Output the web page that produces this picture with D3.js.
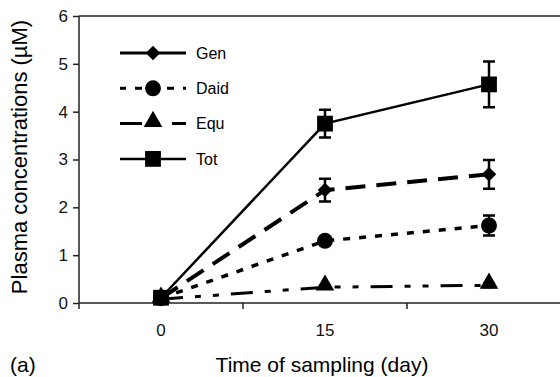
<!DOCTYPE html>
<meta charset="utf-8">
<html lang="en">
<style>
    body { margin: 0; background: #fff; font-family: "Liberation Sans", Arial, sans-serif; }
    .axis path, .axis line { fill: none; stroke: #222; stroke-width: 1.5px; }
    .axis text { font: 17px "Liberation Sans", Arial, sans-serif; fill: #111; }
    .series path.line { fill: none; stroke: #000; }
</style>
<head>
    <script src="https://d3js.org/d3.v7.min.js"></script>
</head>
<body>
<svg width="560" height="377"></svg>
<script>
    // values (plasma concentrations, µM)
    var days = ["0", "15", "30"];
    var seriesNames = ["Gen", "Daid", "Equ", "Tot"];
    var genValues = [0.10, 2.36, 2.69];
    var genErrors = [0, 0.24, 0.30];
    var daidValues = [0.10, 1.30, 1.62];
    var daidErrors = [0, 0.08, 0.21];
    var equValues = [0.08, 0.33, 0.37];
    var equErrors = [0, 0.03, 0.04];
    var totValues = [0.11, 3.75, 4.57];
    var totErrors = [0.02, 0.29, 0.48];
    var yTicks = [0, 1, 2, 3, 4, 5, 6];

    var plotLeft = 79, plotTop = 16, plotBottom = 303, plotRight = 571;

    var x = d3.scaleBand().domain(days).range([plotLeft, plotRight]).padding(0);
    var y = d3.scaleLinear().domain([0, 6]).range([plotBottom, plotTop]);

    var svg = d3.select("svg");

    // frame top line
    svg.append("line")
        .attr("x1", plotLeft).attr("x2", plotRight)
        .attr("y1", plotTop).attr("y2", plotTop)
        .style("stroke", "#222").style("stroke-width", 1.5);

    svg.append("g")
        .attr("class", "axis")
        .attr("transform", "translate(" + plotLeft + ",0)")
        .call(d3.axisLeft(y).tickValues(yTicks).tickFormat(d3.format("d"))
            .tickSize(6).tickSizeOuter(0).tickPadding(5))
        .call(function (g) { g.select(".domain").attr("d", "M0," + plotTop + "V" + (plotBottom + 6)); });

    // x axis: tick marks at band edges, labels at band centres
    var xAxis = svg.append("g")
        .attr("class", "axis")
        .attr("transform", "translate(0," + plotBottom + ")");
    xAxis.append("path").attr("d", "M" + plotLeft + ",0H" + plotRight);
    xAxis.selectAll(".edge")
        .data(days.slice(1))
        .enter().append("line")
        .attr("x1", function (d) { return x(d); })
        .attr("x2", function (d) { return x(d); })
        .attr("y1", 0).attr("y2", 6);
    xAxis.selectAll(".lab")
        .data(days)
        .enter().append("text")
        .attr("x", function (d) { return x(d) + x.bandwidth() / 2; })
        .attr("y", 33)
        .style("text-anchor", "middle")
        .text(function (d) { return d; });

    var styles = {
        Gen: {values: genValues, errors: genErrors, dash: "20,11", width: 4, marker: d3.symbolSquare, size: 105, rot: 45},
        Daid: {values: daidValues, errors: daidErrors, dash: "7,9", width: 3.5, marker: d3.symbolCircle, size: 200, rot: 0},
        Equ: {values: equValues, errors: equErrors, dash: "22,12,6,12,6,12", width: 3, marker: d3.symbolTriangle, size: 150, rot: 0},
        Tot: {values: totValues, errors: totErrors, dash: null, width: 2.5, marker: d3.symbolSquare, size: 250, rot: 0}
    };

    var cx = function (i) { return x(days[i]) + x.bandwidth() / 2; };
    var line = d3.line()
        .x(function (d, i) { return cx(i); })
        .y(function (d) { return y(d); });

    seriesNames.forEach(function (name) {
        var s = styles[name];
        var g = svg.append("g").attr("class", "series");
        g.append("path")
            .attr("class", "line")
            .attr("d", line(s.values))
            .style("stroke-width", s.width)
            .style("stroke-dasharray", s.dash);
        // error bars
        s.values.forEach(function (v, i) {
            var e = s.errors[i];
            if (!e) return;
            g.append("path")
                .attr("d", "M" + cx(i) + "," + y(v - e) + "V" + y(v + e) +
                    "M" + (cx(i) - 6) + "," + y(v + e) + "H" + (cx(i) + 6) +
                    "M" + (cx(i) - 6) + "," + y(v - e) + "H" + (cx(i) + 6))
                .style("fill", "none").style("stroke", "#000").style("stroke-width", 2.5);
        });
    });

    seriesNames.forEach(function (name) {
        var s = styles[name];
        svg.append("g").selectAll("path")
            .data(s.values)
            .enter().append("path")
            .attr("transform", function (d, i) {
                var off = name === "Equ" ? -2 : 0;
                return "translate(" + cx(i) + "," + (y(d) + off) + ") rotate(" + s.rot + ")";
            })
            .attr("d", d3.symbol().type(s.marker).size(s.size))
            .style("fill", "#000");
    });

    // legend
    var legend = svg.selectAll(".legend")
        .data(seriesNames)
        .enter().append("g")
        .attr("class", "legend")
        .attr("transform", function (d, i) { return "translate(153," + (53 + i * 35.3) + ")"; });

    legend.append("path")
        .attr("d", "M-33,0H33")
        .style("stroke", "#000")
        .style("stroke-width", function (d) { return d === "Tot" ? 2.5 : 3; })
        .style("stroke-dasharray", function (d) {
            if (d === "Daid") return "7,9";
            if (d === "Equ") return "22,12,6,12";
            return null;
        })
        .style("stroke-dashoffset", function (d) { return d === "Daid" ? 1 : 0; });
    legend.append("path")
        .attr("transform", function (d) {
            return (d === "Equ" ? "translate(0,-2) " : "") + "rotate(" + styles[d].rot + ")";
        })
        .attr("d", function (d) { return d3.symbol().type(styles[d].marker).size(styles[d].size)(); })
        .style("fill", "#000");
    legend.append("text")
        .attr("x", 43)
        .attr("dy", "0.35em")
        .style("font-size", "16px")
        .text(function (d) { return d; });

    // axis titles
    svg.append("text")
        .attr("transform", "translate(19," + 157 + ") rotate(-90)")
        .attr("dy", "0.35em")
        .style("text-anchor", "middle")
        .style("font-size", "22px")
        .text("Plasma concentrations (µM)");

    svg.append("text")
        .attr("x", 322)
        .attr("y", 365)
        .attr("dy", "0.35em")
        .style("text-anchor", "middle")
        .style("font-size", "21px")
        .text("Time of sampling (day)");

    svg.append("text")
        .attr("x", 10)
        .attr("y", 365)
        .attr("dy", "0.35em")
        .style("font-size", "21px")
        .text("(a)");
</script>
</body>
</html>
